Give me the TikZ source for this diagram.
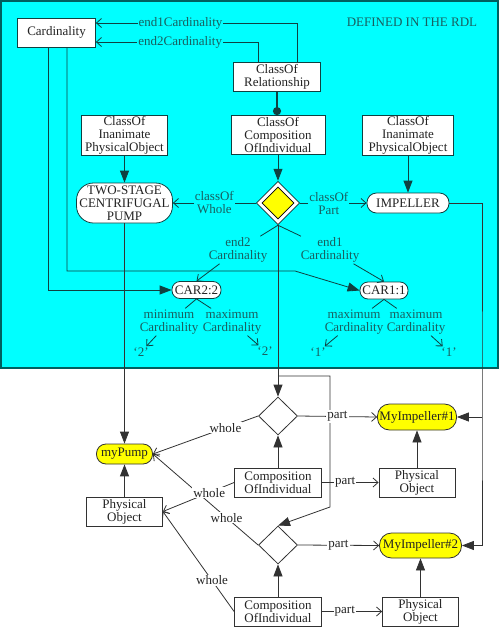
\documentclass[tikz,border=0pt]{standalone}
\usepackage{fontspec}
\setmainfont{Liberation Serif}
\usetikzlibrary{arrows.meta, positioning, shapes.geometric}

\definecolor{rdlcyan}{RGB}{0,255,255}
\definecolor{rdledge}{RGB}{0,95,95}
\definecolor{rdlline}{RGB}{15,65,65}
\definecolor{rdltext}{RGB}{25,95,95}
\definecolor{instline}{RGB}{50,50,50}
\definecolor{insttext}{RGB}{35,35,35}
\definecolor{instyellow}{RGB}{255,255,0}

\begin{document}
\begin{tikzpicture}[
  x=1pt, y=-1pt, % pixel grid of the sketch, y runs downwards
  line width=0.8pt,
  font=\fontsize{13}{13}\selectfont,
  filla/.style={-{Triangle[length=12pt,width=9pt]}},
  opena/.style={-{Straight Barb[length=5pt,width=9pt]}},
  rdlbox/.style={draw=rdlline, fill=white, text=insttext, align=center, inner sep=1pt},
  rdlpill/.style={rdlbox, rounded corners=#1},
  rdllabel/.style={fill=rdlcyan, text=rdltext, align=center, inner sep=1pt},
  instbox/.style={draw=instline, fill=white, text=insttext, align=center, inner sep=1pt},
  instpill/.style={draw=instline, fill=instyellow, text=insttext, align=center, inner sep=0pt, rounded corners=#1},
  instlabel/.style={fill=white, text=insttext, inner sep=1pt},
  instdia/.style={diamond, draw=instline, fill=white, minimum width=39pt, minimum height=38pt, inner sep=0pt}
]
  \useasboundingbox (0,0) rectangle (500,627);

  % reference data library area
  \filldraw[fill=rdlcyan, draw=rdledge, line width=1.5pt] (1,1) rectangle (498,368);
  \node[text=rdltext] (rdl) at (412,22) {DEFINED IN THE RDL};

  \node[rdlbox, minimum width=78pt, minimum height=29pt] (card) at (56.5,32.5) {Cardinality};
  \node[rdlbox, minimum width=87pt, minimum height=29pt] (cor) at (277,77) {ClassOf\\Relationship};
  \node[rdlbox, minimum width=94pt, minimum height=39pt] (coci) at (278,135) {ClassOf\\Composition\\OfIndividual};
  \node[rdlbox, minimum width=86pt, minimum height=38pt] (ciopump) at (124.5,135) {ClassOf\\Inanimate\\PhysicalObject};
  \node[rdlbox, minimum width=91pt, minimum height=38pt] (cioimp) at (408,135) {ClassOf\\Inanimate\\PhysicalObject};
  \node[rdlpill=17pt, minimum width=96pt, minimum height=40pt, inner sep=0pt] (pump) at (124.5,203) {TWO-STAGE\\CENTRIFUGAL\\PUMP};
  \node[rdlpill=9.5pt, minimum width=82pt, minimum height=20pt, inner sep=0pt] (imp) at (408,203) {IMPELLER};
  \node[diamond, draw=black, double=white, double distance=3pt, fill=instyellow,
        minimum width=39.5pt, minimum height=39.5pt, inner sep=0pt, outer sep=2.5pt] (coidia) at (278,203) {};
  \node[rdlpill=8pt, minimum width=49pt, minimum height=17pt, inner sep=0pt] (car2) at (196.5,290) {CAR2:2};
  \node[rdlpill=8pt, minimum width=48pt, minimum height=17pt, inner sep=0pt] (car1) at (384,290.5) {CAR1:1};

  \node[rdllabel] (e2) at (238,250) {end2\\Cardinality};
  \node[rdllabel] (e1) at (330,250) {end1\\Cardinality};
  \node[rdllabel] (min2) at (169,322) {minimum\\Cardinality};
  \node[rdllabel] (max2) at (232,322) {maximum\\Cardinality};
  \node[rdllabel] (max1a) at (354,322) {maximum\\Cardinality};
  \node[rdllabel] (max1b) at (416,322) {maximum\\Cardinality};
  \node[rdllabel] (v2a) at (141,352) {`2'};
  \node[rdllabel] (v2b) at (265,351) {`2'};
  \node[rdllabel] (v1a) at (318,352) {`1'};
  \node[rdllabel] (v1b) at (449,352) {`1'};

  % individuals
  \node[instpill=9.5pt, minimum width=56pt, minimum height=20pt] (mypump) at (124.5,454) {myPump};
  \node[instbox, minimum width=76pt, minimum height=29pt] (physpump) at (124.5,511.5) {Physical\\Object};
  \node[instdia] (comp1) at (278,416) {};
  \node[instdia] (comp2) at (278,545) {};
  \node[instpill=12pt, minimum width=79pt, minimum height=26pt] (imp1) at (417,417) {MyImpeller\#1};
  \node[instpill=12pt, minimum width=82pt, minimum height=25pt] (imp2) at (420.5,545.5) {MyImpeller\#2};
  \node[instbox, minimum width=76pt, minimum height=29pt] (physimp1) at (417,482.5) {Physical\\Object};
  \node[instbox, minimum width=76pt, minimum height=29pt] (physimp2) at (420.5,611.5) {Physical\\Object};
  \node[instbox, minimum width=87pt, minimum height=29pt] (coi1) at (278,482.5) {Composition\\OfIndividual};
  \node[instbox, minimum width=87pt, minimum height=29pt] (coi2) at (278,611.5) {Composition\\OfIndividual};

  \coordinate (kink) at (295,271);
  \coordinate (split) at (278,376);
  \coordinate (bend) at (330,507);
  \coordinate (rail) at (482,417);

  % relations in the RDL
  \draw[rdlline, opena] ([xshift=20.5pt]cor.north) |- node[rdllabel, pos=0.79] (e1card) {end1Cardinality} ([yshift=9.5pt]card.east);
  \draw[rdlline, opena] ([xshift=-19pt]cor.north) |- node[rdllabel, pos=0.74] (e2card) {end2Cardinality} ([yshift=-9.5pt]card.east);
  \draw[rdlline, line width=2.5pt, -{Circle[length=8pt]}] (cor.south) -- (cor.south |- coci.north);
  \draw[rdlline, filla] (coci) -- (coidia);
  \draw[rdlline, filla] (ciopump) -- (pump);
  \draw[rdlline, filla] (cioimp) -- (imp);
  \draw[rdlline, opena] (coidia) -- node[rdllabel] (whole) {classOf\\Whole} (pump);
  \draw[rdlline, opena] (coidia) -- node[rdllabel, pos=0.43] (part) {classOf\\Part} (imp);
  \draw[rdlline, opena] (coidia.south) -- (e2) -- (car2.north);
  \draw[rdlline, opena] (coidia.south) -- (e1) -- (car1.north);
  \draw[rdlline, filla] ([xshift=-8.5pt]card.south) |- (car2.west);
  \draw[rdlline, filla] ([xshift=10.5pt]card.south) |- (kink) -- (car1.west);
  \draw[rdlline] (car2.south) -- (min2);
  \draw[rdlline] (car2.south) -- (max2);
  \draw[rdlline] (car1.south) -- (max1a);
  \draw[rdlline] (car1.south) -- (max1b);
  \draw[rdlline, opena] (min2) -- (v2a);
  \draw[rdlline, opena] (max2) -- (v2b);
  \draw[rdlline, opena] (max1a) -- (v1a);
  \draw[rdlline, opena] (max1b) -- (v1b);

  % classification of the individuals
  \draw[instline, filla] (coidia.south) -- (comp1.north);
  \draw[instline, filla] (split) -| (bend) -- (comp2.north);
  \draw[instline, filla] (pump) -- (mypump);
  \draw[instline, filla] (imp.east) -| (rail) |- (imp2.east);
  \draw[instline, filla] (rail) -- (imp1.east);

  % compositions of individuals
  \draw[instline, filla, line width=1.3pt] (physpump) -- (mypump);
  \draw[instline, filla] (coi1) -- (comp1);
  \draw[instline, filla] (coi2) -- (comp2);
  \draw[instline, filla] (physimp1) -- (imp1);
  \draw[instline, filla] (physimp2) -- (imp2);
  \draw[instline, opena] (comp1.west) -- node[instlabel, pos=0.31] (w1) {whole} (mypump.east);
  \draw[instline, opena] (comp1.east) -- node[instlabel] (p1) {part} (imp1.west);
  \draw[instline, opena] (comp2.west) -- node[instlabel, pos=0.30] (w3) {whole} (mypump.east);
  \draw[instline, opena] (comp2.east) -- node[instlabel] (p2) {part} (imp2.west);
  \draw[instline, opena] (coi1.east) -- node[instlabel, pos=0.41] (p3) {part} (physimp1.west);
  \draw[instline, opena] (coi1.west) -- node[instlabel, pos=0.35] (w2) {whole} (physpump.east);
  \draw[instline, opena] (coi2.east) -- node[instlabel, pos=0.38] (p4) {part} (physimp2.west);
  \draw[instline, opena] (coi2.west) -- node[instlabel, pos=0.31] (w4) {whole} (physpump.east);
\end{tikzpicture}
\end{document}
